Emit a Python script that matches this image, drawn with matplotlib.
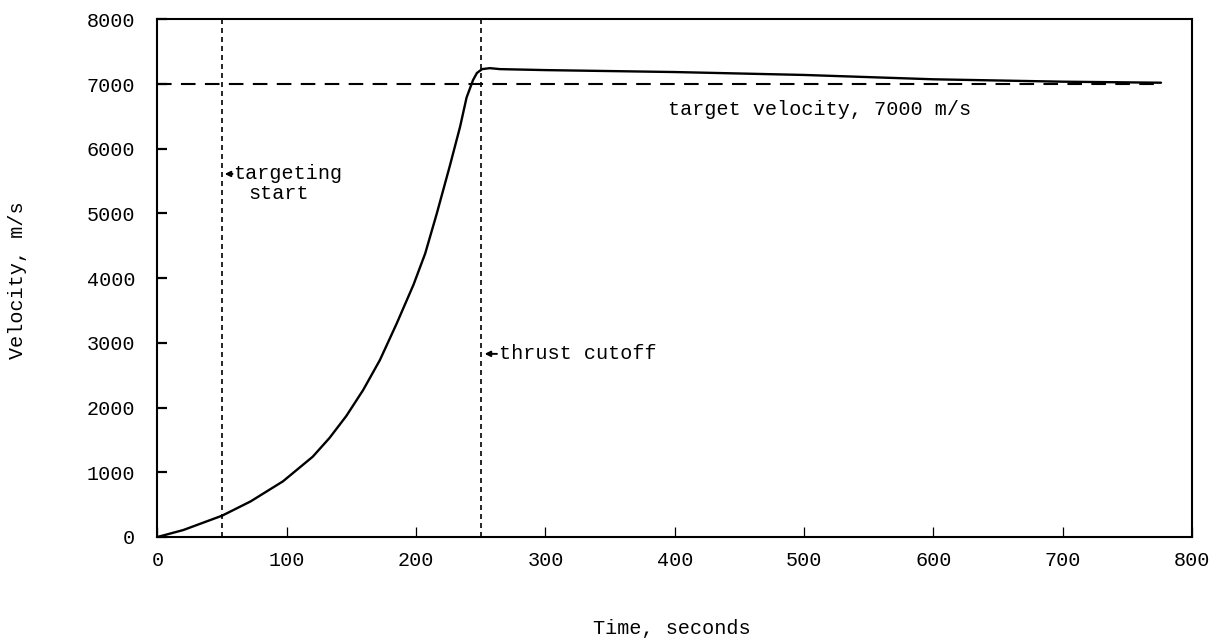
import matplotlib
matplotlib.use("Agg")
import matplotlib.pyplot as plt

# ---- data ----
time_s = [0, 20, 50, 72, 97, 120, 133, 146, 159, 172, 185, 198, 207, 216, 226,
          234, 239, 244, 247, 251, 257, 265, 300, 400, 500, 600, 700, 776]
velocity = [0, 108, 330, 550, 860, 1240, 1530, 1870, 2270, 2735, 3300, 3900,
            4380, 5000, 5730, 6340, 6790, 7060, 7170, 7230, 7245, 7230, 7215,
            7185, 7140, 7073, 7036, 7020]
target_velocity = 7000
target_line_end = 776
targeting_start = 50
thrust_cutoff = 250
x_ticks = [0, 100, 200, 300, 400, 500, 600, 700, 800]
y_ticks = [0, 1000, 2000, 3000, 4000, 5000, 6000, 7000, 8000]

FONT = ["Liberation Mono", "DejaVu Sans Mono"]
FS = 14.5
plt.rcParams["font.family"] = FONT

fig = plt.figure(figsize=(12.25, 6.41), dpi=100)
ax = fig.add_axes([157.5 / 1225, 1 - 537 / 641, (1192 - 157.5) / 1225, (537 - 19.3) / 641])

# vertical event lines
for tv in (targeting_start, thrust_cutoff):
    ax.plot([tv, tv], [0, 8000], color="black", lw=1.2,
            linestyle=(0, (3.0, 2.4)), zorder=2)

# target velocity dashed line
ax.plot([0, target_line_end], [target_velocity, target_velocity], color="black",
        lw=1.5, linestyle=(0, (7.0, 4.5)), zorder=2)

# velocity curve
ax.plot(time_s, velocity, color="black", lw=1.7, zorder=3,
        solid_joinstyle="round", solid_capstyle="round")

ax.set_xlim(0, 800)
ax.set_ylim(0, 8000)
ax.set_xticks(x_ticks)
ax.set_yticks(y_ticks)
ax.set_xticklabels([str(t) for t in x_ticks], fontsize=FS)
ax.set_yticklabels([str(t) for t in y_ticks], fontsize=FS)
ax.tick_params(axis="y", direction="in", length=7, width=1.6, pad=16)
ax.tick_params(axis="x", direction="in", length=7, width=0.9, pad=10)
for sp in ax.spines.values():
    sp.set_linewidth(1.5)

# annotations
arrow_kw = dict(arrowstyle="-|>", color="black", lw=1.4, mutation_scale=8,
                shrinkA=0, shrinkB=0)
ax.text(58.5, 5610, "targeting", fontsize=FS, ha="left", va="center",
        family=FONT)
ax.text(94, 5310, "start", fontsize=FS, ha="center", va="center",
        family=FONT)
ax.annotate("", xy=(52, 5610), xytext=(58, 5610), arrowprops=arrow_kw)
ax.text(264, 2830, "thrust cutoff", fontsize=FS, ha="left",
        va="center", family=FONT)
ax.annotate("", xy=(253, 2830), xytext=(262.5, 2830), arrowprops=arrow_kw)
ax.text(394.5, 6600, "target velocity, 7000 m/s", fontsize=FS, ha="left",
        va="center", family=FONT)

fig.text(18 / 1225, 1 - 280 / 641, "Velocity, m/s", rotation=90, fontsize=FS,
         ha="center", va="center")
fig.text(672 / 1225, 1 - 628 / 641, "Time, seconds", fontsize=FS,
         ha="center", va="center")

fig.savefig("out.png", dpi=100)
